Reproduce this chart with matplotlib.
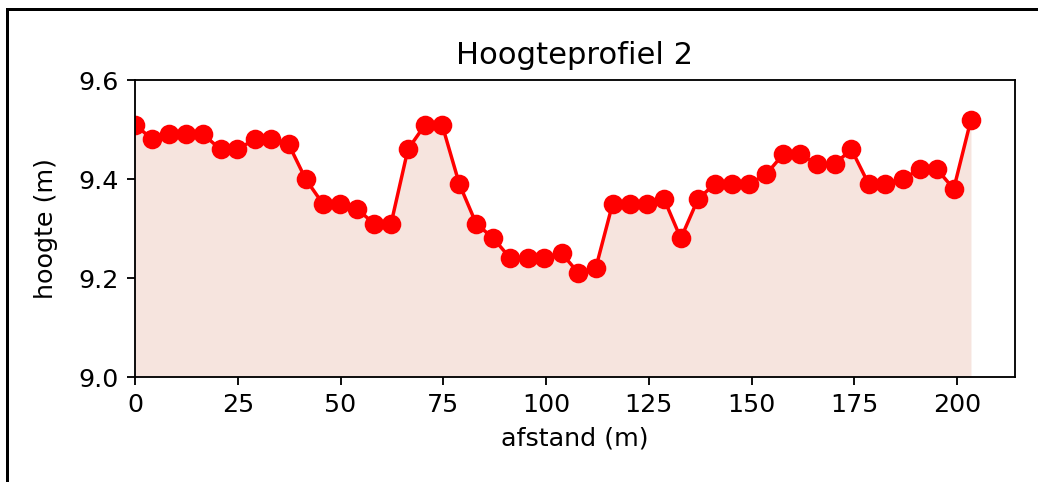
import matplotlib
matplotlib.use("Agg")
import matplotlib.pyplot as plt
from matplotlib.lines import Line2D

# afstand langs het profiel (m)
afstand = [0.0, 4.2, 8.3, 12.5, 16.6, 20.8, 24.9, 29.1, 33.2, 37.4,
           41.5, 45.7, 49.8, 54.0, 58.1, 62.3, 66.4, 70.6, 74.7, 78.9,
           83.0, 87.2, 91.3, 95.5, 99.6, 103.8, 107.9, 112.1, 116.2, 120.4,
           124.5, 128.7, 132.8, 137.0, 141.1, 145.3, 149.4, 153.6, 157.7, 161.9,
           166.0, 170.2, 174.3, 178.5, 182.6, 186.8, 190.9, 195.1, 199.2, 203.4]

# hoogte (m)
hoogte = [9.51, 9.48, 9.49, 9.49, 9.49, 9.46, 9.46, 9.48, 9.48, 9.47,
          9.40, 9.35, 9.35, 9.34, 9.31, 9.31, 9.46, 9.51, 9.51, 9.39,
          9.31, 9.28, 9.24, 9.24, 9.24, 9.25, 9.21, 9.22, 9.35, 9.35,
          9.35, 9.36, 9.28, 9.36, 9.39, 9.39, 9.39, 9.41, 9.45, 9.45,
          9.43, 9.43, 9.46, 9.39, 9.39, 9.40, 9.42, 9.42, 9.38, 9.52]

x_ticks = [0, 25, 50, 75, 100, 125, 150, 175, 200]
y_ticks = [9.0, 9.2, 9.4, 9.6]

plt.rcParams["font.size"] = 11

dpi = 166
fig = plt.figure(figsize=(1038 / dpi, 482 / dpi), dpi=dpi)
ax = fig.add_axes([0.1301, 0.2178, 0.8477, 0.6162])

ax.fill_between(afstand, hoogte, 9.0, color="#f6e4de", linewidth=0)
ax.plot(afstand, hoogte, "-o", color="red", markersize=7.5, linewidth=1.5)

ax.set_xlim(0, 214.1)
ax.set_ylim(9.0, 9.6)
ax.set_xticks(x_ticks)
ax.set_yticks(y_ticks)
ax.set_title("Hoogteprofiel 2", fontsize=13.3, pad=7)
ax.set_xlabel("afstand (m)")
ax.set_ylabel("hoogte (m)", labelpad=9)

# zwarte rand van de screenshot (boven en links)
fig.add_artist(Line2D([7 / 1038, 1], [1 - 9 / 482, 1 - 9 / 482],
                      transform=fig.transFigure, color="black", linewidth=1.3))
fig.add_artist(Line2D([7 / 1038, 7 / 1038], [0, 1 - 9 / 482],
                      transform=fig.transFigure, color="black", linewidth=1.3))

fig.savefig("out.png", dpi=dpi)
